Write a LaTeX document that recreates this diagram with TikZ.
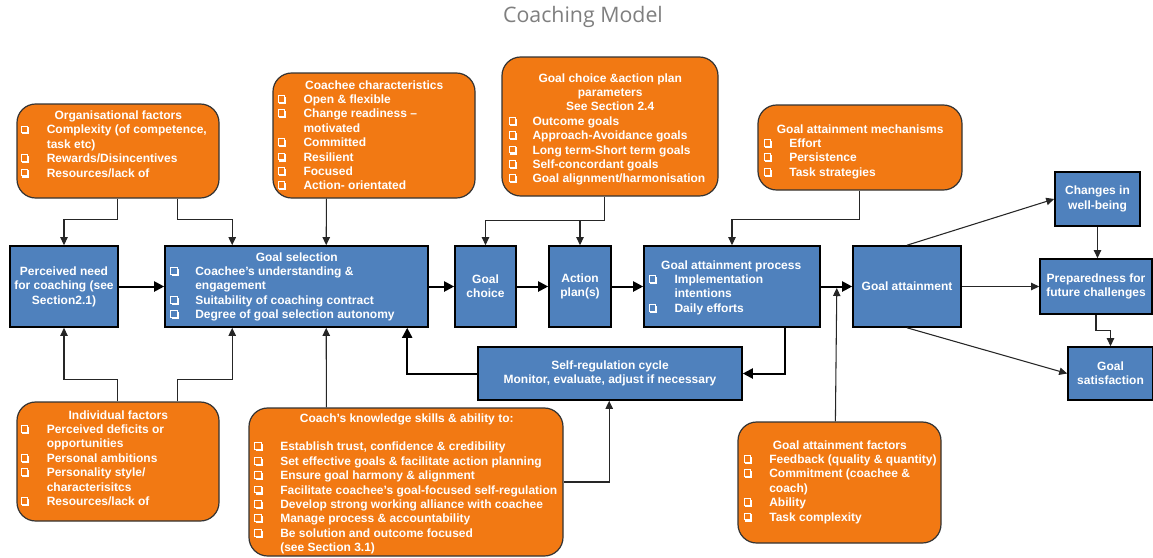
\documentclass[tikz,border=0pt]{standalone}
\usepackage{fontspec}
\setmainfont{Liberation Sans}
\newfontfamily\titlefont{Open Sans}
\usetikzlibrary{arrows.meta,calc}

\definecolor{boxorange}{HTML}{F27913}
\definecolor{boxblue}{HTML}{4F81BD}
\definecolor{titlegray}{HTML}{7F7F7F}

% shadowed square bullet
\newcommand\sqb{\tikz[baseline=0pt,x=1pt,y=1pt]{%
  \draw[white,line width=0.75pt] (0.4,0.9) rectangle (5.4,5.9);
  \fill[white] (1.2,-0.4) rectangle (6.4,0.9);
  \fill[white] (5.4,-0.4) rectangle (6.4,5.0);}}

% text block: indent, width, lines
\newlength\ind
\newcommand\blk[3]{\setlength\ind{#1}\vtop{\hsize=#2\relax\lineskiplimit=-100pt\relax #3}}
\newcommand\ttl[1]{\hbox to\hsize{\hfil#1\hfil}}
\newcommand\itm[1]{\hbox{\hbox to\ind{\sqb\hfil}#1}}
\newcommand\cnt[1]{\hbox{\hskip\ind#1}}

\begin{document}
\begin{tikzpicture}[x=0.75pt,y=-0.75pt,
  obox/.style={draw=black!80,line width=0.9pt,fill=boxorange,rounded corners=14pt,inner sep=0},
  bbox/.style={draw=black,line width=1.2pt,fill=boxblue,inner sep=0,text=white,align=center,
    font=\fontsize{9pt}{10.8pt}\selectfont\bfseries},
  txt/.style={anchor=base west,inner sep=0,text=white,font=\fontsize{9pt}{10.8pt}\selectfont\bfseries},
  thinarr/.style={draw=black!85,line width=0.8pt,-{Triangle[length=6pt,width=5.5pt]}},
  thickarr/.style={draw=black,line width=1.5pt,-{Triangle[length=7.5pt,width=7.5pt]}}]

\fill[white] (0,0) rectangle (1153,557);
\useasboundingbox (0,0) rectangle (1153,557);

\node[text=titlegray,font=\titlefont\fontsize{16pt}{19pt}\selectfont] (title) at (583,17) {Coaching Model};

% orange influence boxes
\node[obox,minimum width=151.5pt,minimum height=70.5pt] (org) at (118,151) {};
\node[obox,minimum width=151.5pt,minimum height=93.75pt] (coachee) at (374,135.5) {};
\node[obox,minimum width=162pt,minimum height=104.25pt] (params) at (610,126.5) {};
\node[obox,minimum width=153pt,minimum height=63.75pt] (mech) at (860,147.5) {};
\node[obox,minimum width=151.5pt,minimum height=89.25pt] (indiv) at (118,461.5) {};
\node[obox,minimum width=235.5pt,minimum height=111pt] (coach) at (406,482) {};
\node[obox,minimum width=152.25pt,minimum height=90.75pt] (fac) at (839.5,482.5) {};

% blue process boxes
\node[bbox,minimum width=81pt,minimum height=60.75pt] (need) at (64,286.5) {Perceived need\\for coaching (see\\Section2.1)};
\node[bbox,minimum width=197.25pt,minimum height=60.75pt] (gsel) at (296.5,286.5) {};
\node[bbox,minimum width=45.75pt,minimum height=60.75pt] (gch) at (485.5,286.5) {Goal\\choice};
\node[bbox,minimum width=46.5pt,minimum height=60.75pt] (ap) at (580,286.5) {Action\\plan(s)};
\node[bbox,minimum width=132pt,minimum height=60.75pt] (gap) at (732,286.5) {};
\node[bbox,minimum width=81pt,minimum height=60.75pt] (ga) at (907,286.5) {Goal attainment};
\node[bbox,minimum width=63.75pt,minimum height=40.5pt] (chg) at (1097.5,199) {Changes in\\well-being};
\node[bbox,minimum width=84pt,minimum height=41.25pt] (prep) at (1096,286.5) {Preparedness for\\future challenges};
\node[bbox,minimum width=63.75pt,minimum height=39.75pt] (sat) at (1110.5,373.5) {Goal\\satisfaction};
\node[bbox,minimum width=198pt,minimum height=39.75pt] (sreg) at (610,373.5) {Self-regulation cycle\\Monitor, evaluate, adjust if necessary};

% box texts
\node[txt] (orgtxt) at (20.5,119.5) {\blk{19.5pt}{146.25pt}{%
  \ttl{Organisational factors}
  \itm{Complexity (of competence,}
  \cnt{task etc)}
  \itm{Rewards/Disincentives}
  \itm{Resources/lack of}}};
\node[txt] (coacheetxt) at (277.3,89) {\blk{19.5pt}{145pt}{%
  \ttl{Coachee characteristics}
  \itm{Open \& flexible}
  \itm{Change readiness –}
  \cnt{motivated}
  \itm{Committed}
  \itm{Resilient}
  \itm{Focused}
  \itm{Action- orientated}}};
\node[txt] (paramstxt) at (508.3,82) {\blk{18pt}{152.5pt}{%
  \ttl{Goal choice \&action plan}
  \ttl{parameters}
  \ttl{See Section 2.4}
  \itm{Outcome goals}
  \itm{Approach-Avoidance goals}
  \itm{Long term-Short term goals}
  \itm{Self-concordant goals}
  \itm{Goal alignment/harmonisation}}};
\node[txt] (mechtxt) at (763.3,133) {\blk{19.3pt}{145pt}{%
  \ttl{Goal attainment mechanisms}
  \itm{Effort}
  \itm{Persistence}
  \itm{Task strategies}}};
\node[txt] (gseltxt) at (170,261) {\blk{18.75pt}{189.75pt}{%
  \ttl{Goal selection}
  \itm{Coachee’s understanding \&}
  \cnt{engagement}
  \itm{Suitability of coaching contract}
  \itm{Degree of goal selection autonomy}}};
\node[txt] (gaptxt) at (648.3,269) {\blk{19.5pt}{124pt}{%
  \ttl{Goal attainment process}
  \itm{Implementation}
  \cnt{intentions}
  \itm{Daily efforts}}};
\node[txt] (indivtxt) at (20.5,419) {\blk{19.5pt}{146.25pt}{%
  \ttl{Individual factors}
  \itm{Perceived deficits or}
  \cnt{opportunities}
  \itm{Personal ambitions}
  \itm{Personality style/}
  \cnt{characterisitcs}
  \itm{Resources/lack of}}};
\node[txt] (coachtxt) at (254,422) {\blk{19.5pt}{228.75pt}{%
  \ttl{Coach’s knowledge skills \& ability to:}
  \hbox{}
  \itm{Establish trust, confidence \& credibility}
  \itm{Set effective goals \& facilitate action planning}
  \itm{Ensure goal harmony \& alignment}
  \itm{Facilitate coachee’s goal-focused self-regulation}
  \itm{Develop strong working alliance with coachee}
  \itm{Manage process \& accountability}
  \itm{Be solution and outcome focused}
  \cnt{(see Section 3.1)}}};
\node[txt] (factxt) at (743.3,449) {\blk{19.3pt}{144.3pt}{%
  \ttl{Goal attainment factors}
  \itm{Feedback (quality \& quantity)}
  \itm{Commitment (coachee \&}
  \cnt{coach)}
  \itm{Ability}
  \itm{Task complexity}}};

% influences from above
\draw[thinarr] ($(org.south west)+(101,0)$) -- ++(0,21) -| (need.north);
\draw[thinarr] ($(org.south west)+(161,0)$) -- ++(0,21) -| ($(gsel.north west)+(68,0)$);
\draw[thinarr] ($(coachee.south west)+(54,0)$) -- ($(gsel.north west)+(162,0)$);
\draw[thinarr] ($(params.south west)+(103,0)$) -- ++(0,24) -| (gch.north);
\draw[thinarr] ($(params.south west)+(103,24)$) -| (ap.north);
\draw[thinarr] ($(mech.south west)+(102,0)$) -- ++(0,29) -| (gap.north);

% influences from below
\draw[thinarr] ($(indiv.north west)+(101,0)$) -- ++(0,-22) -| (need.south);
\draw[thinarr] ($(indiv.north west)+(161,0)$) -- ++(0,-22) -| ($(gsel.south west)+(68,0)$);
\draw[thinarr] ($(coach.north west)+(78,0)$) -- ($(gsel.south west)+(162,0)$);
\draw[thinarr] (coach.east) -| ($(sreg.south west)+(132,0)$);
\draw[thinarr] ($(fac.north west)+(98,0)$) -- ($(gap.east)+(16,1.5)$);

% main flow
\draw[thickarr] (need.east) -- (gsel.west);
\draw[thickarr] (gsel.east) -- (gch.west);
\draw[thickarr] (gch.east) -- (ap.west);
\draw[thickarr] (ap.east) -- (gap.west);
\draw[thickarr] (gap.east) -- (ga.west);
\draw[thickarr] ($(gap.south west)+(142,0)$) |- (sreg.east);
\draw[thickarr] (sreg.west) -| ($(gsel.south west)+(243,0)$);

% outcomes
\draw[thinarr] (ga.north) -- (chg.west);
\draw[thinarr] (ga.east) -- (prep.west);
\draw[thinarr] (ga.south) -- (sat.west);
\draw[thinarr] (chg.south) -- (chg.south |- prep.north);
\draw[thinarr] (prep.south) -- ++(0,16) -| (sat.north);
\end{tikzpicture}
\end{document}
